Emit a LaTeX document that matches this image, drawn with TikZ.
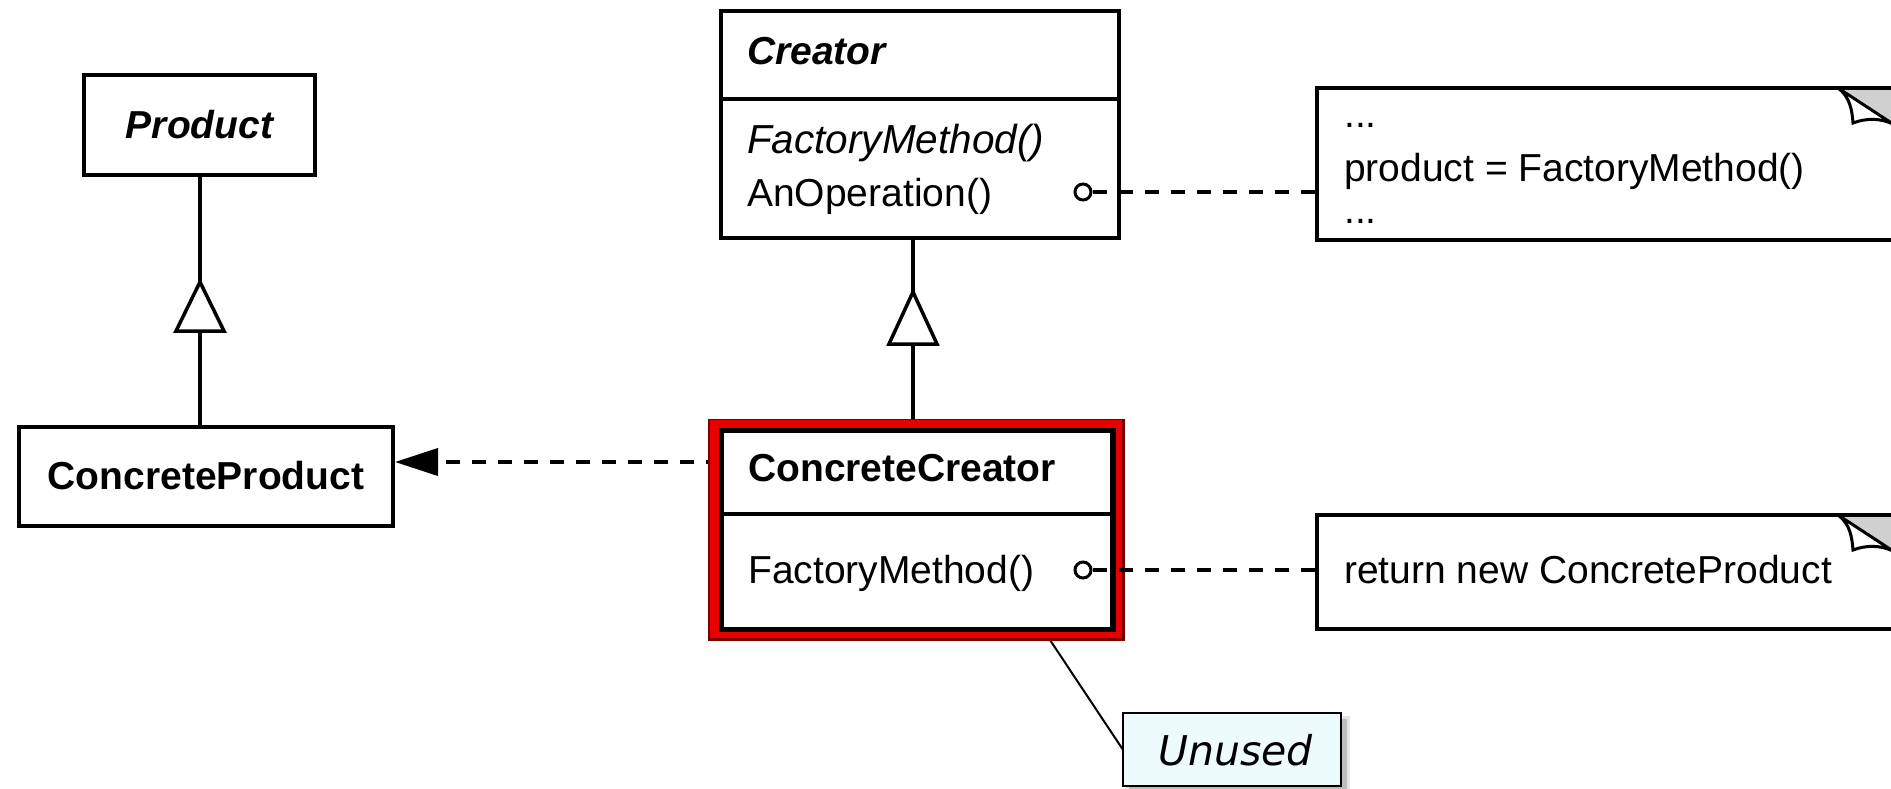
\documentclass[tikz,border=0pt]{standalone}
\usepackage{fontspec}
\setmainfont{Liberation Sans}
\newfontfamily\callfont{DejaVu Sans}
\usetikzlibrary{arrows.meta,calc}
\definecolor{framered}{HTML}{E60000}
\definecolor{framedark}{HTML}{7A0000}
\definecolor{callfill}{HTML}{EEFBFD}
\definecolor{curlgrey}{HTML}{D0D0D0}
\begin{document}
\begin{tikzpicture}[x=1pt,y=-1pt,
  classbox/.style={draw, line width=4pt, fill=white, inner sep=0pt},
  notebox/.style={inner sep=0pt, outer sep=0pt},
  txt/.style={inner sep=0pt, anchor=base west, font=\fontsize{39}{46}\selectfont},
  ctitle/.style={inner sep=0pt, anchor=base west, font=\fontsize{39}{46}\selectfont\bfseries},
  stroke/.style={line width=4pt},
  dep/.style={line width=4pt, dash pattern=on 14pt off 12pt},
  gentri/.style={line width=3.5pt, fill=white, line join=miter},
  port/.style={circle, draw, line width=3pt, fill=white, minimum size=16pt, inner sep=0pt}
]
\useasboundingbox (0,0) rectangle (1891,789);
\clip (0,0) rectangle (1891,789);

% ---- class boxes ----
\node[classbox, minimum width=231pt, minimum height=100pt] (prod) at (199.5,125) {};
\node[classbox, minimum width=374pt, minimum height=99pt] (cp) at (206,476.5) {};
\node[classbox, minimum width=398pt, minimum height=227pt] (creator) at (920,124.5) {};
\draw[stroke] (creator.west |- 0,99) -- (creator.east |- 0,99);

% ---- notes ----
\node[notebox, minimum width=600pt, minimum height=152pt] (n1) at (1617,164) {};
\node[notebox, minimum width=600pt, minimum height=114pt] (n2) at (1617,572) {};

% ---- connection points ----
\coordinate (a1) at (200,282);
\coordinate (b1) at (200,331);
\coordinate (a2) at (913,292);
\coordinate (b2) at (913,344);
\coordinate (dy) at (0,462);
\coordinate (u0) at (1050,640);

% ---- callout label ----
\node[inner sep=0pt, minimum width=218pt, minimum height=73pt] (un) at (1232,749.5) {};
\fill[black, opacity=0.18] ($(un.north west)+(6,6)$) rectangle ($(un.south east)+(6,6)$);
\fill[black, opacity=0.10] ($(un.north west)+(3,3)$) rectangle ($(un.south east)+(9,9)$);
\draw[line width=2pt] (u0) -- (un.west);
\draw[line width=2pt, fill=callfill] (un.north west) rectangle (un.south east);
\node[inner sep=0pt, anchor=base west, font=\callfont\itshape\fontsize{41}{48}\selectfont] (unt) at (1158,765) {Unused};

% ---- concrete creator (highlighted frame) ----
\node[classbox, line width=3.5pt, minimum width=390pt, minimum height=197pt] (cc) at (917,530) {};

% dependency ConcreteCreator -> ConcreteProduct
\draw[dep, -{Triangle[length=43pt,width=27pt]}] (cc.west |- dy) -- (cp.east |- dy);

% generalisations
\draw[stroke] (a1 |- prod.south) -- (a1);
\draw[stroke] (cp.north -| b1) -- (b1);
\draw[gentri] (a1) -- (b1 -| 176,0) -- (b1 -| 224,0) -- cycle;
\draw[stroke] (a2 |- creator.south) -- (a2);
\draw[stroke] (cc.north -| b2) -- (b2);
\draw[gentri] (a2) -- (b2 -| 889,0) -- (b2 -| 937,0) -- cycle;

% red highlight frame
\draw[line width=12pt, framered] (714.5,424.5) rectangle (1119,635);
\draw[line width=1.5pt, framedark] (709,419.5) rectangle (1124.5,640);
\draw[line width=3pt, framedark] (1123.5,420) -- (1123.5,639) -- (709,639);
\draw[line width=1.2pt, framedark!70!framered] (720,430) rectangle (1114,630);
\draw[line width=3.5pt] (cc.north west) rectangle (cc.south east);
\draw[line width=3.5pt] (cc.west |- 0,514) -- (cc.east |- 0,514);

% ---- note outlines with folded corner ----
\foreach \n in {n1, n2}{
  \fill[white] (\n.north west) rectangle (\n.south east);
  \path (\n.north west) coordinate (nw);
  \fill[curlgrey] (nw -| 1838,0) -- (nw -| 1900,0) -- ($(nw -| 1900,0)+(0,41)$) -- cycle;
  \draw[line width=3pt, fill=white] (nw -| 1838,0) .. controls ($(nw -| 1850,0)+(0,9)$) and ($(nw -| 1852,0)+(0,22)$) .. ($(nw -| 1853,0)+(0,35)$)
        .. controls ($(nw -| 1866,0)+(0,30)$) and ($(nw -| 1880,0)+(0,30)$) .. ($(nw -| 1893,0)+(0,36)$) -- cycle;
  \draw[stroke] (\n.north east) -- (\n.north west) -- (\n.south west) -- (\n.south east);
}

% ---- ports and note links ----
\node[port] (c1) at (1083,192) {};
\node[port] (c2) at (1083,570) {};
\draw[dep] (c1.east) -- (c1.east -| n1.west);
\draw[dep] (c2.east) -- (c2.east -| n2.west);

% ---- texts ----
\node[ctitle, anchor=base] (tprod) at (199.5,139) {\itshape Product};
\node[ctitle, anchor=base] (tcp) at (206,489) {ConcreteProduct};
\node[ctitle] (tcr) at (747,65) {\itshape Creator};
\node[txt, font=\fontsize{40.5}{46}\selectfont] (tfm1) at (747,154) {\itshape FactoryMethod()};
\node[txt] (tao) at (747,207) {AnOperation()};
\node[ctitle] (tcc) at (748,481) {ConcreteCreator};
\node[txt] (tfm2) at (748,583) {FactoryMethod()};
\node[txt] (n1a) at (1344,128) {...};
\node[txt] (n1b) at (1344,182) {product = FactoryMethod()};
\node[txt] (n1c) at (1344,223) {...};
\node[txt] (n2a) at (1344,583) {return new ConcreteProduct};
\end{tikzpicture}
\end{document}
